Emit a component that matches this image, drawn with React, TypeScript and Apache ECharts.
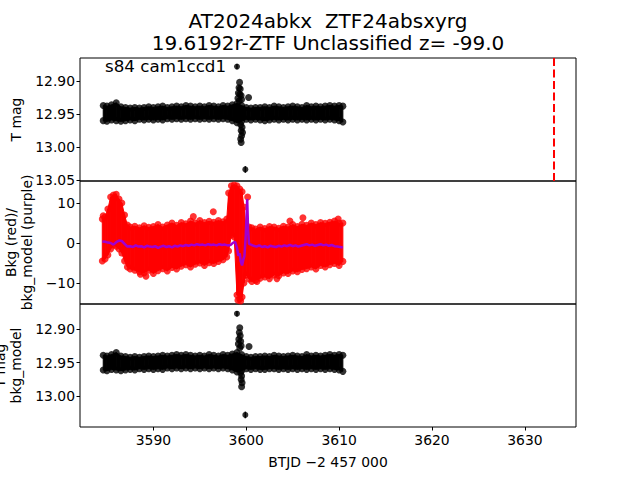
import React, { useEffect, useRef } from 'react';
import * as echarts from 'echarts';

const titleLines = ['AT2024abkx  ZTF24absxyrg', '19.6192r-ZTF Unclassified z= -99.0'];
const annotation = 's84 cam1ccd1';
const xTicks = [3590, 3600, 3610, 3620, 3630];
const magTicksTop = [12.9, 12.95, 13.0, 13.05];
const bkgTicks = [-10, 0, 10];
const magTicksBottom = [12.9, 12.95, 13.0];
const refEpoch = [3633.1];

// [time, upper-edge mag, lower-edge mag] of the dense T mag band
const tmagBand = [
  [3584.6, 12.937, 12.960], [3585.0, 12.938, 12.961], [3585.5, 12.936, 12.959], [3586.0, 12.933, 12.960],
  [3586.5, 12.939, 12.961], [3587.0, 12.940, 12.960], [3587.5, 12.941, 12.959], [3588.0, 12.940, 12.960],
  [3588.5, 12.941, 12.958], [3589.0, 12.940, 12.959], [3589.5, 12.939, 12.958], [3590.0, 12.940, 12.959],
  [3590.5, 12.939, 12.958], [3591.0, 12.938, 12.959], [3591.5, 12.940, 12.957], [3592.0, 12.939, 12.958],
  [3592.5, 12.938, 12.957], [3593.0, 12.939, 12.958], [3593.5, 12.937, 12.957], [3594.0, 12.938, 12.958],
  [3594.5, 12.939, 12.957], [3595.0, 12.938, 12.958], [3595.5, 12.939, 12.957], [3596.0, 12.937, 12.958],
  [3596.5, 12.938, 12.957], [3597.0, 12.939, 12.958], [3597.5, 12.937, 12.957], [3598.0, 12.938, 12.958],
  [3598.5, 12.936, 12.960], [3599.0, 12.934, 12.963], [3599.5, 12.937, 12.961], [3600.0, 12.940, 12.958],
  [3600.5, 12.941, 12.959], [3601.0, 12.940, 12.958], [3601.5, 12.940, 12.959], [3602.0, 12.939, 12.960],
  [3602.5, 12.940, 12.959], [3603.0, 12.938, 12.958], [3603.5, 12.939, 12.959], [3604.0, 12.940, 12.958],
  [3604.5, 12.939, 12.959], [3605.0, 12.938, 12.958], [3605.5, 12.939, 12.959], [3606.0, 12.940, 12.958],
  [3606.5, 12.937, 12.959], [3607.0, 12.939, 12.958], [3607.5, 12.938, 12.959], [3608.0, 12.939, 12.958],
  [3608.5, 12.938, 12.959], [3609.0, 12.937, 12.958], [3609.5, 12.938, 12.959], [3610.0, 12.937, 12.960],
  [3610.4, 12.938, 12.962],
];
// [time, mag] points around the event
const tmagPoints = [
  [3599.28, 12.902], [3599.22, 12.910], [3599.35, 12.912], [3599.15, 12.918], [3599.3, 12.920],
  [3599.45, 12.922], [3599.1, 12.926], [3599.5, 12.928], [3599.25, 12.930], [3600.25, 12.925],
  [3599.4, 12.966], [3599.55, 12.970], [3599.45, 12.975], [3599.6, 12.978], [3599.5, 12.983],
  [3599.4, 12.988], [3599.45, 12.993],
];
// [time, mag, error]
const tmagOutliers = [[3599.0, 12.878, 0.004], [3599.9, 13.034, 0.005]];

// [time, upper-edge bkg, lower-edge bkg] of the red background band
const bkgBand = [
  [3584.5, 6.0, -4.5], [3584.8, 6.5, -4.0], [3585.1, 8.5, -3.0], [3585.4, 11.5, -1.5], [3585.7, 12.0, -0.5],
  [3586.0, 12.2, -0.8], [3586.3, 11.0, -1.5], [3586.6, 10.0, -2.5], [3586.9, 7.0, -4.5], [3587.2, 4.5, -6.0],
  [3587.5, 4.0, -6.5], [3588.0, 4.2, -6.8], [3588.5, 3.8, -7.2], [3589.0, 4.3, -7.5], [3589.5, 3.9, -6.8],
  [3590.0, 4.1, -7.6], [3590.5, 4.6, -6.9], [3591.0, 4.0, -6.4], [3591.5, 4.5, -7.0], [3592.0, 5.0, -6.1],
  [3592.5, 4.4, -6.5], [3593.0, 5.1, -5.8], [3593.5, 4.8, -5.4], [3594.0, 5.5, -6.0], [3594.5, 5.0, -5.3],
  [3595.0, 5.6, -5.0], [3595.5, 5.1, -5.6], [3596.0, 5.4, -4.9], [3596.5, 5.2, -5.1], [3597.0, 5.6, -4.6],
  [3597.5, 5.3, -4.2], [3597.9, 6.0, -3.5], [3598.1, 12.5, -2.0], [3598.4, 14.3, 2.0], [3598.7, 14.5, 1.5],
  [3599.0, 14.3, -13.0], [3599.3, 13.5, -14.0], [3599.55, 12.8, -13.5], [3599.75, 9.0, -10.0], [3600.0, 3.0, -8.0],
  [3600.3, 4.0, -9.0], [3600.6, 3.8, -9.6], [3601.0, 3.5, -9.3], [3601.5, 4.0, -8.8], [3602.0, 3.6, -8.5],
  [3602.5, 4.1, -8.9], [3603.0, 4.0, -8.0], [3603.5, 3.7, -8.2], [3604.0, 4.2, -7.5], [3604.5, 4.0, -7.6],
  [3605.0, 4.6, -7.0], [3605.5, 4.1, -7.2], [3606.0, 4.7, -6.6], [3606.5, 4.4, -6.4], [3607.0, 5.0, -6.0],
  [3607.5, 4.6, -6.5], [3608.0, 5.1, -5.6], [3608.5, 4.9, -6.0], [3609.0, 5.2, -5.4], [3609.5, 5.5, -5.1],
  [3610.0, 5.0, -5.6], [3610.4, 5.0, -4.6],
];
const bkgPoints = [
  [3584.6, 6.8], [3594.3, 6.6], [3596.45, 7.8], [3604.7, 5.5], [3606.1, 6.3], [3609.9, 6.0],
  [3588.6, -7.8], [3589.2, -8.3], [3601.15, -9.6], [3603.3, -8.9], [3600.15, 11.5], [3599.1, -14.3],
  [3599.4, -14.5],
];
// [time, bkg_model]
const bkgModel = [
  [3584.5, 0.4], [3584.8, 0.3], [3585.1, 0.1], [3585.4, 0.0], [3585.7, -0.4], [3586.0, 0.2], [3586.3, 0.6],
  [3586.6, 0.5], [3586.9, -0.2], [3587.2, -0.9], [3587.5, -0.8], [3587.8, -1.0], [3588.1, -0.6], [3588.4, -0.9],
  [3588.7, -0.8], [3589.0, -1.1], [3589.3, -0.7], [3589.6, -0.9], [3589.9, -1.0], [3590.2, -0.8], [3590.5, -1.2],
  [3590.8, -0.9], [3591.1, -0.7], [3591.4, -1.0], [3591.7, -0.8], [3592.0, -1.1], [3592.3, -0.7], [3592.6, -0.9],
  [3592.9, -0.6], [3593.2, -0.8], [3593.5, -0.5], [3593.8, -0.7], [3594.1, -0.4], [3594.4, -0.6], [3594.7, -0.3],
  [3595.0, -0.5], [3595.3, -0.4], [3595.6, -0.6], [3595.9, -0.3], [3596.2, -0.5], [3596.5, -0.4], [3596.8, -0.6],
  [3597.1, -0.3], [3597.4, -0.5], [3597.7, -0.4], [3598.0, -0.6], [3598.3, -0.5], [3598.6, 0.1], [3598.8, 0.3],
  [3599.0, -1.2], [3599.15, -3.2], [3599.3, -2.6], [3599.4, -4.5], [3599.55, -5.6], [3599.7, -4.0], [3599.8, -3.3],
  [3599.95, 2.0], [3600.1, 11.0], [3600.2, 3.0], [3600.3, -0.2], [3600.5, -0.4], [3600.8, -0.7], [3601.1, -0.9],
  [3601.4, -0.6], [3601.7, -1.0], [3602.0, -0.8], [3602.3, -1.1], [3602.6, -0.7], [3602.9, -0.9], [3603.2, -1.0],
  [3603.5, -0.7], [3603.8, -0.9], [3604.1, -0.6], [3604.4, -0.8], [3604.7, -0.5], [3605.0, -0.8], [3605.3, -0.6],
  [3605.6, -0.9], [3605.9, -0.7], [3606.2, -0.5], [3606.5, -0.3], [3606.8, -0.6], [3607.1, -0.4], [3607.4, -0.7],
  [3607.7, -0.5], [3608.0, -0.3], [3608.3, -0.6], [3608.6, -0.4], [3608.9, -0.7], [3609.2, -0.5], [3609.5, -0.8],
  [3609.8, -0.9], [3610.1, -1.0], [3610.4, -1.1],
];

// corrected (T mag - bkg_model) band
const corrBand = [
  [3584.6, 12.939, 12.961], [3585.0, 12.940, 12.962], [3585.5, 12.938, 12.960], [3586.0, 12.935, 12.961],
  [3586.5, 12.940, 12.962], [3587.0, 12.941, 12.961], [3587.5, 12.942, 12.960], [3588.0, 12.941, 12.961],
  [3588.5, 12.942, 12.959], [3589.0, 12.941, 12.960], [3589.5, 12.940, 12.959], [3590.0, 12.941, 12.960],
  [3590.5, 12.940, 12.959], [3591.0, 12.939, 12.960], [3591.5, 12.940, 12.958], [3592.0, 12.939, 12.959],
  [3592.5, 12.938, 12.958], [3593.0, 12.939, 12.959], [3593.5, 12.938, 12.958], [3594.0, 12.939, 12.959],
  [3594.5, 12.940, 12.958], [3595.0, 12.939, 12.959], [3595.5, 12.940, 12.958], [3596.0, 12.938, 12.959],
  [3596.5, 12.939, 12.958], [3597.0, 12.940, 12.959], [3597.5, 12.938, 12.958], [3598.0, 12.939, 12.959],
  [3598.5, 12.937, 12.961], [3599.0, 12.935, 12.964], [3599.5, 12.938, 12.962], [3600.0, 12.941, 12.959],
  [3600.5, 12.942, 12.960], [3601.0, 12.941, 12.959], [3601.5, 12.941, 12.960], [3602.0, 12.940, 12.960],
  [3602.5, 12.941, 12.959], [3603.0, 12.939, 12.959], [3603.5, 12.940, 12.960], [3604.0, 12.941, 12.959],
  [3604.5, 12.940, 12.960], [3605.0, 12.939, 12.959], [3605.5, 12.940, 12.960], [3606.0, 12.941, 12.959],
  [3606.5, 12.938, 12.960], [3607.0, 12.940, 12.959], [3607.5, 12.939, 12.960], [3608.0, 12.940, 12.959],
  [3608.5, 12.939, 12.960], [3609.0, 12.938, 12.959], [3609.5, 12.939, 12.960], [3610.0, 12.938, 12.961],
  [3610.4, 12.939, 12.963],
];
const corrPoints = [
  [3599.3, 12.898], [3599.25, 12.905], [3599.35, 12.910], [3599.2, 12.915], [3599.4, 12.918],
  [3599.15, 12.922], [3599.45, 12.925], [3599.3, 12.928], [3600.3, 12.926],
  [3599.4, 12.965], [3599.5, 12.970], [3599.45, 12.975], [3599.55, 12.980], [3599.5, 12.986],
];
const corrOutliers = [[3599.0, 12.877, 0.004], [3599.9, 13.028, 0.005]];

const FONT = 'DejaVu Sans';
const RED = '#ff0000';
const PURPLE = '#a000d0';

function bandSeries(band: number[][], gi: number, color: string) {
  return {
    type: 'custom',
    xAxisIndex: gi,
    yAxisIndex: gi,
    data: band,
    encode: { x: 0, y: [1, 2] },
    silent: true,
    z: 2,
    renderItem: (params: any, api: any) => {
      const i = params.dataIndex;
      if (i >= band.length - 1) return { type: 'group', children: [] };
      const a = band[i];
      const b = band[i + 1];
      const pts = [
        api.coord([a[0], a[1]]),
        api.coord([b[0], b[1]]),
        api.coord([b[0], b[2]]),
        api.coord([a[0], a[2]]),
      ];
      return { type: 'polygon', shape: { points: pts }, style: { fill: color, stroke: color, lineWidth: 1 } };
    },
  };
}

function edgeSeries(band: number[][], gi: number, color: string, extra: any = {}) {
  const data: number[][] = [];
  band.forEach((r) => {
    data.push([r[0], r[1]]);
    data.push([r[0], r[2]]);
  });
  return {
    type: 'scatter',
    xAxisIndex: gi,
    yAxisIndex: gi,
    data,
    symbolSize: 7,
    itemStyle: { color },
    silent: true,
    z: 3,
    ...extra,
  };
}

function pointSeries(pts: number[][], gi: number, color: string, size = 7) {
  return {
    type: 'scatter',
    xAxisIndex: gi,
    yAxisIndex: gi,
    data: pts.map((p) => [p[0], p[1]]),
    symbolSize: size,
    itemStyle: { color },
    silent: true,
    z: 4,
  };
}

function errorSeries(pts: number[][], gi: number) {
  return {
    type: 'custom',
    xAxisIndex: gi,
    yAxisIndex: gi,
    data: pts,
    encode: { x: 0, y: 1 },
    silent: true,
    z: 5,
    renderItem: (params: any, api: any) => {
      const p = pts[params.dataIndex];
      const a = api.coord([p[0], p[1] - p[2]]);
      const b = api.coord([p[0], p[1] + p[2]]);
      return {
        type: 'line',
        shape: { x1: a[0], y1: a[1], x2: b[0], y2: b[1] },
        style: { stroke: '#000', lineWidth: 1.5 },
      };
    },
  };
}

const minus = (v: number) => (v < 0 ? '\u2212' + Math.abs(v) : String(v));

export default function App() {
  const ref = useRef<HTMLDivElement>(null);
  useEffect(() => {
    document.body.style.margin = '0';
    const chart = echarts.init(ref.current!, undefined, { renderer: 'svg' });
    const gridBase = {
      left: 80, width: 496, height: 123, show: true, borderColor: '#000', borderWidth: 1,
      backgroundColor: 'transparent', containLabel: false, outerBoundsMode: 'none',
    };
    const labelStyle = { color: '#000', fontSize: 13.9, fontFamily: FONT };
    const yBase = (ticks: number[], fmt: (v: number) => string) => ({
      type: 'value',
      splitLine: { show: false },
      axisLine: { show: false },
      axisTick: { show: true, length: 3.5, customValues: ticks, lineStyle: { color: '#000' } },
      axisLabel: { ...labelStyle, margin: 5, customValues: ticks, formatter: fmt },
      nameLocation: 'middle',
      nameTextStyle: { color: '#000', fontSize: 13.9, fontFamily: FONT, lineHeight: 16 },
    });
    const xHidden = (gi: number) => ({
      type: 'value',
      gridIndex: gi,
      min: 3582.1,
      max: 3635.5,
      splitLine: { show: false },
      axisLine: { show: false },
      axisTick: { show: false },
      axisLabel: { show: false },
    });
    const option: any = {
      animation: false,
      textStyle: { fontFamily: FONT },
      grid: [
        { ...gridBase, top: 58 },
        { ...gridBase, top: 181 },
        { ...gridBase, top: 304 },
      ],
      xAxis: [
        xHidden(0),
        xHidden(1),
        {
          ...xHidden(2),
          axisTick: { show: true, length: 3.5, customValues: xTicks, lineStyle: { color: '#000' } },
          axisLabel: { ...labelStyle, margin: 6, customValues: xTicks, formatter: (v: number) => String(v) },
          name: 'BTJD \u22122 457 000',
          nameLocation: 'middle',
          nameGap: 28,
          nameTextStyle: { color: '#000', fontSize: 13.9, fontFamily: FONT },
        },
      ],
      yAxis: [
        { ...yBase(magTicksTop, (v) => v.toFixed(2)), gridIndex: 0, inverse: true, min: 12.865, max: 13.0515, name: 'T mag', nameGap: 56 },
        { ...yBase(bkgTicks, minus), gridIndex: 1, min: -15.25, max: 15.5, name: 'Bkg (red)/\nbkg_model (purple)', nameGap: 43 },
        { ...yBase(magTicksBottom, (v) => v.toFixed(2)), gridIndex: 2, inverse: true, min: 12.8625, max: 13.046, name: 'T mag\nbkg_model', nameGap: 49 },
      ],
      graphic: [
        { type: 'text', x: 328, y: 21, style: { text: titleLines[0], fontSize: 20, fontFamily: FONT, fill: '#000', align: 'center', verticalAlign: 'middle' } },
        { type: 'text', x: 328, y: 43, style: { text: titleLines[1], fontSize: 20, fontFamily: FONT, fill: '#000', align: 'center', verticalAlign: 'middle' } },
        { type: 'text', x: 105, y: 66, z: 10, style: { text: annotation, fontSize: 16.7, fontFamily: FONT, fill: '#000', align: 'left', verticalAlign: 'middle' } },
      ],
      series: [
        bandSeries(tmagBand, 0, '#000'),
        edgeSeries(tmagBand, 0, '#000', {
          markLine: {
            silent: true,
            symbol: ['none', 'none'],
            label: { show: false },
            lineStyle: { color: RED, type: [8, 3.5], width: 2 },
            data: refEpoch.map((t) => ({ xAxis: t })),
          },
        }),
        pointSeries(tmagPoints, 0, '#000'),
        pointSeries(tmagOutliers, 0, '#000', 6),
        errorSeries(tmagOutliers, 0),

        bandSeries(bkgBand, 1, RED),
        edgeSeries(bkgBand, 1, RED),
        pointSeries(bkgPoints, 1, RED),
        {
          type: 'line',
          xAxisIndex: 1,
          yAxisIndex: 1,
          data: bkgModel,
          showSymbol: false,
          lineStyle: { color: PURPLE, width: 2.5 },
          silent: true,
          z: 6,
        },

        bandSeries(corrBand, 2, '#000'),
        edgeSeries(corrBand, 2, '#000'),
        pointSeries(corrPoints, 2, '#000'),
        pointSeries(corrOutliers, 2, '#000', 6),
        errorSeries(corrOutliers, 2),
      ],
    };
    chart.setOption(option);
    return () => chart.dispose();
  }, []);
  return <div ref={ref} style={{ width: 640, height: 480 }} />;
}
